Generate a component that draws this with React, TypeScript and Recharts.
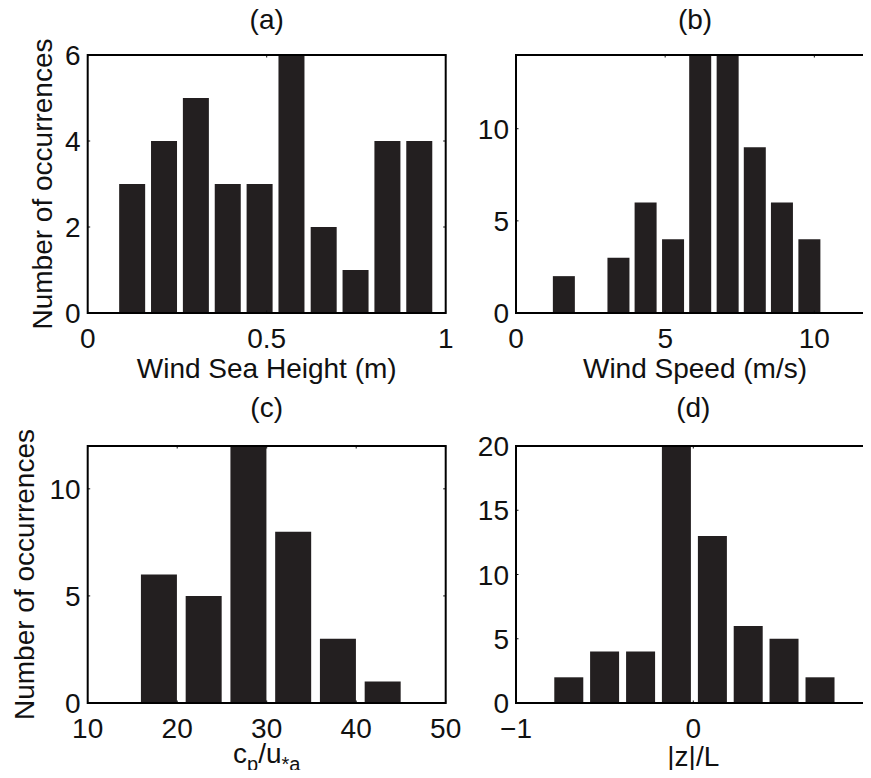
import React from "react";
import { Bar, BarChart, XAxis, YAxis } from "recharts";

// histogram bin centres and counts
const heightBins = [0.124, 0.213, 0.302, 0.391, 0.48, 0.569, 0.659, 0.748, 0.837, 0.926];
const heightCounts = [3, 4, 5, 3, 3, 6, 2, 1, 4, 4];
const speedBins = [1.59, 2.51, 3.42, 4.33, 5.25, 6.16, 7.08, 7.99, 8.9, 9.82];
const speedCounts = [2, 0, 3, 6, 4, 14, 14, 9, 6, 4];
const ageBins = [18, 23, 28, 33, 38, 43];
const ageCounts = [6, 5, 12, 8, 3, 1];
const stabBins = [-0.7, -0.498, -0.295, -0.093, 0.11, 0.312, 0.514, 0.717];
const stabCounts = [2, 4, 4, 20, 13, 6, 5, 2];

const heightTicks = [0, 0.5, 1];
const speedTicks = [0, 5, 10];
const ageTicks = [10, 20, 30, 40, 50];
const stabTicks = [-1, 0, 1];
const countTicksA = [0, 2, 4, 6];
const countTicksB = [0, 5, 10];
const countTicksC = [0, 5, 10];
const countTicksD = [0, 5, 10, 15, 20];

const FONT = '"Liberation Sans", Arial, Helvetica, sans-serif';
const INK = "#111";
const BAR = "#231f20";
const FS = 28;
const YW = 60;
const XH = 40;
const TICK = 2.5;

const fmt = (v: number) => (v < 0 ? "\u2212" + Math.abs(v) : String(v));

type PanelProps = {
  left: number;
  top: number;
  width: number;
  height: number;
  box: [number, number, number, number];
  bins: number[];
  counts: number[];
  xDomain: [number, number];
  xTicks: number[];
  yDomain: [number, number];
  yTicks: number[];
  barSize: number;
  title: string;
  titleY: number;
  xLabel: React.ReactNode;
  xLabelY: number;
  yLabelX?: number;
};

function Panel(p: PanelProps) {
  const data = p.bins.map((x, i) => ({ x, n: p.counts[i] }));
  const x0 = p.box[0] - p.left;
  const y0 = p.box[1] - p.top;
  const x1 = p.box[2] - p.left;
  const y1 = p.box[3] - p.top;
  const plotW = x1 - x0;
  const plotH = y1 - y0;
  const cx = (x0 + x1) / 2;

  // MATLAB style: small inward ticks on both sides of the box
  const xTick = (t: any) => (
    <g>
      <line x1={t.x} x2={t.x} y1={t.y} y2={t.y - TICK} stroke={INK} />
      <line x1={t.x} x2={t.x} y1={t.y - plotH} y2={t.y - plotH + TICK} stroke={INK} />
      <text x={t.x} y={t.y + 35} textAnchor="middle" fontSize={FS} fontFamily={FONT} fill={INK}>
        {fmt(t.payload.value)}
      </text>
    </g>
  );

  const yTick = (t: any) => (
    <g>
      <line x1={t.x} x2={t.x + TICK} y1={t.y} y2={t.y} stroke={INK} />
      <line x1={t.x + plotW} x2={t.x + plotW - TICK} y1={t.y} y2={t.y} stroke={INK} />
      <text x={t.x - 7} y={t.y + 10} textAnchor="end" fontSize={FS} fontFamily={FONT} fill={INK}>
        {fmt(t.payload.value)}
      </text>
    </g>
  );

  return (
    <div style={{ position: "absolute", left: p.left, top: p.top, width: p.width, height: p.height }}>
      <BarChart
        width={p.width}
        height={p.height}
        data={data}
        margin={{ top: y0, left: x0 - YW, right: p.width - x1, bottom: p.height - y1 - XH }}
      >
        <XAxis
          dataKey="x"
          type="number"
          domain={p.xDomain}
          ticks={p.xTicks}
          interval={0}
          allowDataOverflow
          height={XH}
          tickSize={0}
          tickMargin={0}
          axisLine={false}
          tickLine={false}
          tick={xTick}
        />
        <YAxis
          type="number"
          domain={p.yDomain}
          ticks={p.yTicks}
          interval={0}
          allowDataOverflow
          width={YW}
          tickSize={0}
          tickMargin={0}
          axisLine={false}
          tickLine={false}
          tick={yTick}
        />
        <Bar dataKey="n" fill={BAR} barSize={p.barSize} isAnimationActive={false} />
      </BarChart>
      <svg
        width={p.width}
        height={p.height}
        style={{ position: "absolute", left: 0, top: 0, pointerEvents: "none" }}
        fontFamily={FONT}
        fontSize={FS}
        fill={INK}
      >
        <rect x={x0} y={y0} width={plotW} height={plotH} fill="none" stroke="#000" strokeWidth={2} />
        <text x={cx} y={p.titleY - p.top} textAnchor="middle">
          {p.title}
        </text>
        <text x={cx} y={p.xLabelY - p.top} textAnchor="middle">
          {p.xLabel}
        </text>
        {p.yLabelX !== undefined ? (
          <text
            x={p.yLabelX}
            y={(y0 + y1) / 2}
            textAnchor="middle"
            transform={`rotate(-90 ${p.yLabelX} ${(y0 + y1) / 2})`}
          >
            Number of occurrences
          </text>
        ) : null}
      </svg>
    </div>
  );
}

export default function App() {
  return (
    <div
      style={{
        position: "relative",
        width: 871,
        height: 778,
        margin: -8,
        overflow: "hidden",
        background: "#fff",
        fontFamily: FONT
      }}
    >
      <Panel
        left={0}
        top={0}
        width={470}
        height={390}
        box={[87.7, 55, 445.7, 313]}
        bins={heightBins}
        counts={heightCounts}
        xDomain={[0, 1]}
        xTicks={heightTicks}
        yDomain={[0, 6]}
        yTicks={countTicksA}
        barSize={26}
        title="(a)"
        titleY={29}
        xLabel="Wind Sea Height (m)"
        xLabelY={378}
        yLabelX={51.5}
      />
      <Panel
        left={450}
        top={0}
        width={430}
        height={390}
        box={[516, 55, 874, 313]}
        bins={speedBins}
        counts={speedCounts}
        xDomain={[0, 12]}
        xTicks={speedTicks}
        yDomain={[0, 14]}
        yTicks={countTicksB}
        barSize={22}
        title="(b)"
        titleY={29}
        xLabel="Wind Speed (m/s)"
        xLabelY={378}
      />
      <Panel
        left={0}
        top={390}
        width={470}
        height={388}
        box={[87.7, 446, 445.7, 703]}
        bins={ageBins}
        counts={ageCounts}
        xDomain={[10, 50]}
        xTicks={ageTicks}
        yDomain={[0, 12]}
        yTicks={countTicksC}
        barSize={36}
        title="(c)"
        titleY={417}
        xLabel={
          <>
            c<tspan dy={8} fontSize={20}>p</tspan>
            <tspan dy={-8}>/u</tspan>
            <tspan dy={8} fontSize={20}>*a</tspan>
          </>
        }
        xLabelY={763}
        yLabelX={34}
      />
      <Panel
        left={450}
        top={390}
        width={430}
        height={388}
        box={[516, 446, 870.6, 703]}
        bins={stabBins}
        counts={stabCounts}
        xDomain={[-1, 1]}
        xTicks={stabTicks}
        yDomain={[0, 20]}
        yTicks={countTicksD}
        barSize={29}
        title="(d)"
        titleY={417}
        xLabel="|z|/L"
        xLabelY={766}
      />
    </div>
  );
}
